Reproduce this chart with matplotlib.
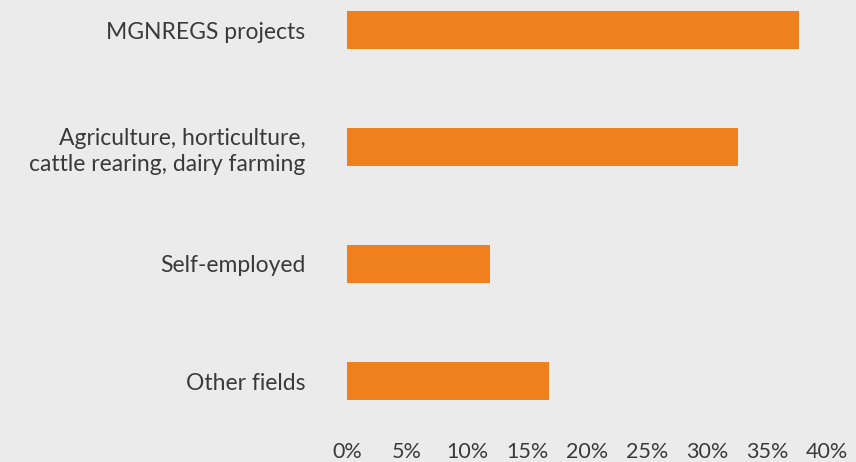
import matplotlib.pyplot as plt
from matplotlib.ticker import FuncFormatter

# data
categories = ["MGNREGS projects",
              "Agriculture, horticulture,\ncattle rearing, dairy farming",
              "Self-employed",
              "Other fields"]
shares = [37.7, 32.6, 11.9, 16.8]
x_ticks = [0, 5, 10, 15, 20, 25, 30, 35, 40]

bg = "#eaebea"
bar_color = "#f0801e"
text_color = "#3a3a3a"

plt.rcParams['font.family'] = ['Lato', 'DejaVu Sans']

fig = plt.figure(figsize=(8.56, 4.62), dpi=100, facecolor=bg)
# axes placed in pixel terms: left 347, right 827, top 0, bottom 425
ax = fig.add_axes([347 / 856, 1 - 425 / 462, 480 / 856, 425 / 462])
ax.set_facecolor(bg)

pos = list(range(len(categories)))
ax.barh(pos, shares, height=0.325, color=bar_color)

ax.set_xlim(0, 40)
ax.set_ylim((425 - 30) / 117, -30 / 117)
ax.set_xticks(x_ticks)
ax.xaxis.set_major_formatter(FuncFormatter(lambda v, p: f"{v:.0f}%"))
ax.set_yticks(pos)
ax.set_yticklabels(categories, ha="right", multialignment="right", linespacing=1.3)

ax.tick_params(axis="x", length=0, pad=12, labelsize=15.5, labelcolor=text_color)
ax.tick_params(axis="y", length=0, pad=30, labelsize=16.5, labelcolor=text_color)
for s in ax.spines.values():
    s.set_visible(False)

fig.savefig("out.png", dpi=100, facecolor=bg)
